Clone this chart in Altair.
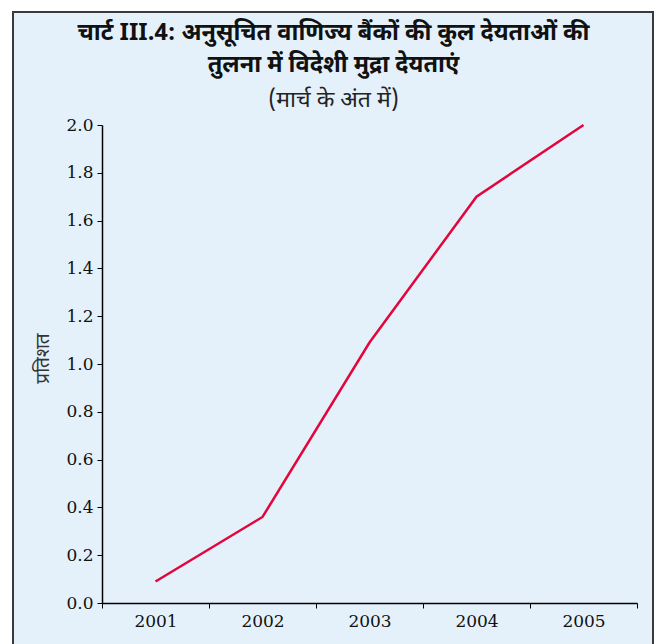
import altair as alt
import pandas as pd

years = ["2001", "2002", "2003", "2004", "2005"]
values = [0.09, 0.36, 1.09, 1.70, 2.00]
y_ticks = [0.0, 0.2, 0.4, 0.6, 0.8, 1.0, 1.2, 1.4, 1.6, 1.8, 2.0]

title_lines = ["चार्ट III.4: अनुसूचित वाणिज्य बैंकों की कुल देयताओं की", "तुलना में विदेशी मुद्रा देयताएं"]
subtitle = "(मार्च के अंत में)"
y_title = "प्रतिशत"

df = pd.DataFrame({"year": years, "value": values})

serif = "DejaVu Serif"
deva = "Noto Sans Devanagari, Lohit Devanagari, FreeSerif, Noto Sans, sans-serif"

frame = alt.Chart(pd.DataFrame({"k": [0]})).mark_rect(
    fill="#e4f1fb", stroke="#3a3a3a", strokeWidth=2
).encode(
    x=alt.value(-89), x2=alt.value(551), y=alt.value(-113), y2=alt.value(540)
)

line = alt.Chart(df).mark_line(color="#e2063c", strokeWidth=2.5).encode(
    x=alt.X(
        "year:N",
        sort=years,
        scale=alt.Scale(type="band", paddingInner=0, paddingOuter=0),
        bandPosition=0.5,
        axis=alt.Axis(
            title=None, labelAngle=0, tickBand="extent", domainColor="#000",
            tickColor="#000", tickSize=5, labelFont=serif, labelFontSize=17,
            labelColor="#111", labelPadding=5, domainWidth=1.5, zindex=2,
        ),
    ),
    y=alt.Y(
        "value:Q",
        scale=alt.Scale(domain=[0, 2.0], nice=False),
        axis=alt.Axis(
            title=y_title, values=y_ticks, format=".1f", grid=False,
            domainColor="#000", tickColor="#000", tickSize=5, labelFont=serif,
            labelFontSize=17, labelColor="#111", labelPadding=4, domainWidth=1.5,
            titleFont=deva, titleFontSize=19, titleFontWeight="normal",
            titleColor="#333", titleAngle=-90, titleX=-60, titleY=233,
            titleAlign="center", titleBaseline="middle", zindex=2,
        ),
    ),
)

chart = alt.layer(frame, line).properties(
    width=535,
    height=478,
    padding={"left": 102, "top": 125, "right": 22, "bottom": 41},
    autosize=alt.AutoSizeParams(type="none"),
    background="white",
    title=alt.TitleParams(
        text=title_lines,
        subtitle=subtitle,
        font=deva,
        fontSize=23.5,
        fontWeight="bold",
        color="#111",
        lineHeight=32,
        subtitleFont=deva,
        subtitleFontSize=23,
        subtitleFontWeight="normal",
        subtitleColor="#222",
        subtitlePadding=13,
        anchor="middle",
        frame="group",
        dx=-36,
        offset=-101,
        zindex=2,
    ),
).configure_view(stroke=None)

chart.save("out.html", embed_options={"renderer": "svg", "actions": False})
